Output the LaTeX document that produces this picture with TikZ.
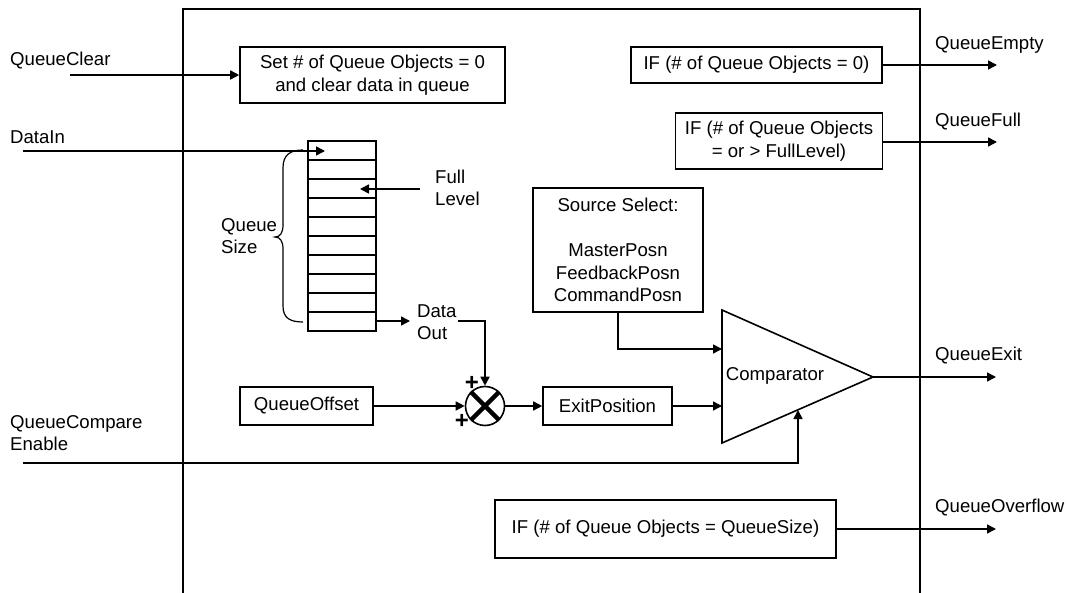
\documentclass[tikz,border=0pt]{standalone}
\usepackage{fontspec}
\setmainfont{Liberation Sans}
\usetikzlibrary{arrows.meta,calc}
\begin{document}
\begin{tikzpicture}[x=1pt,y=-1pt,
  every node/.style={font=\fontsize{18.6}{22.5}\selectfont},
  ln/.style={line width=1.6pt,draw=black},
  arr/.style={ln,-{Triangle[length=9pt,width=9pt]}},
  blk/.style={draw=black,line width=1.6pt,rectangle,inner sep=0pt,align=center,fill=white},
  lbl/.style={inner sep=0pt,anchor=west,align=left},
  sgn/.style={inner sep=0pt,font=\fontsize{24}{24}\selectfont\bfseries}]
\useasboundingbox (0,0) rectangle (1068,593);
% outer frame (open at the bottom)
\draw[ln] (183,593) -- (183,9) -- (920,9) -- (920,593);

% boxes
\node[blk,minimum width=265pt,minimum height=56pt] (setbox) at (372.5,75) {Set \# of Queue Objects = 0\\and clear data in queue};
\node[blk,minimum width=251pt,minimum height=36pt] (empty) at (756.5,65) {IF (\# of Queue Objects = 0)};
\node[blk,minimum width=207pt,minimum height=56pt] (full) at (779,141) {IF (\# of Queue Objects\\= or > FullLevel)};
\node[blk,minimum width=170pt,minimum height=124pt] (src) at (618,250) {Source Select:\\[22.5pt]MasterPosn\\FeedbackPosn\\CommandPosn};
\node[blk,minimum width=133pt,minimum height=38pt] (qoff) at (306.5,406) {QueueOffset};
\node[blk,minimum width=129pt,minimum height=38pt] (exitpos) at (607.5,406) {ExitPosition};
\node[blk,minimum width=341pt,minimum height=58pt] (ovf) at (665.5,529) {IF (\# of Queue Objects = QueueSize)};

% queue stack
\node[ln,draw,rectangle,minimum width=68pt,minimum height=190pt,inner sep=0pt] (queue) at (342,236) {};
\foreach \i in {1,...,9}{\draw[ln] (308,141+19*\i) -- (376,141+19*\i);}

% brace
\draw[line width=1.2pt] (303,150) .. controls (290,150) and (283,155) .. (283,168) -- (283,225)
  .. controls (283,233) and (280,237) .. (275,237)
  .. controls (280,237) and (283,241) .. (283,249) -- (283,306)
  .. controls (283,318) and (290,322) .. (303,322);
\node[lbl] (qsize) at (221,236) {Queue\\Size};

% labels left
\node[lbl] (lqc) at (10,61) {QueueClear};
\node[lbl] (ldi) at (10,137) {DataIn};
\node[lbl] (lqe) at (10,433) {QueueCompare\\Enable};

% labels right
\node[lbl] (lemp) at (935,45) {QueueEmpty};
\node[lbl] (lful) at (935,122) {QueueFull};
\node[lbl] (lexit) at (935,356) {QueueExit};
\node[lbl] (lovf) at (935,508) {QueueOverflow};

% coordinates
\coordinate (qcS) at (70,75);
\coordinate (diS) at (23,151);
\coordinate (diE) at (325,151);
\coordinate (flS) at (420,189);
\coordinate (flE) at (360,189);
\coordinate (doS) at (376,321);
\coordinate (qeS) at (23,463);
\coordinate (enIn) at (798,410);
\coordinate (cA) at (722,310);
\coordinate (cB) at (722,443);
\coordinate (cC) at (873,377);
\coordinate (cIn1) at (722,349);
\coordinate (cIn2) at (722,406);
\coordinate (oEmp) at (997,65);
\coordinate (oFul) at (997,142);
\coordinate (oExit) at (996,377);
\coordinate (oOvf) at (996,529);

% Full level and data out labels
\node[lbl] (fl) at (435,188) {Full\\Level};
\node[lbl] (dout) at (417,322) {Data\\Out};
\coordinate (doE) at (410,321);
\coordinate (doR) at (458,321);

% comparator
\draw[ln,line join=miter,fill=white] (cA) -- (cC) -- (cB) -- cycle;
\node[inner sep=0pt] (comp) at (775,376) {Comparator};

% summing junction
\node[circle,draw=black,line width=1.6pt,minimum size=39pt,inner sep=0pt,fill=white] (sum) at (485,406) {};
\draw[line width=4.5pt] (sum.north west) -- (sum.south east);
\draw[line width=4.5pt] (sum.north east) -- (sum.south west);
\node[sgn] (p1) at (472,383) {+};
\node[sgn] (p2) at (462,421) {+};

% connectors
\draw[arr] (qcS) -- (setbox.west);
\draw[arr] (diS) -- (diE);
\draw[arr] (flS) -- (flE);
\draw[arr] (doS) -- (doE);
\draw[arr] (doR) -| (sum.north);
\draw[arr] (qoff.east) -- (sum.west);
\draw[arr] (sum.east) -- (exitpos.west);
\draw[arr] (exitpos.east) -- (cIn2);
\draw[arr] (src.south) |- (cIn1);
\draw[arr] (qeS) -| (enIn);
\draw[arr] (cC) -- (oExit);
\draw[arr] (empty.east) -- (oEmp);
\draw[arr] (full.east |- oFul) -- (oFul);
\draw[arr] (ovf.east) -- (oOvf);
\end{tikzpicture}
\end{document}
